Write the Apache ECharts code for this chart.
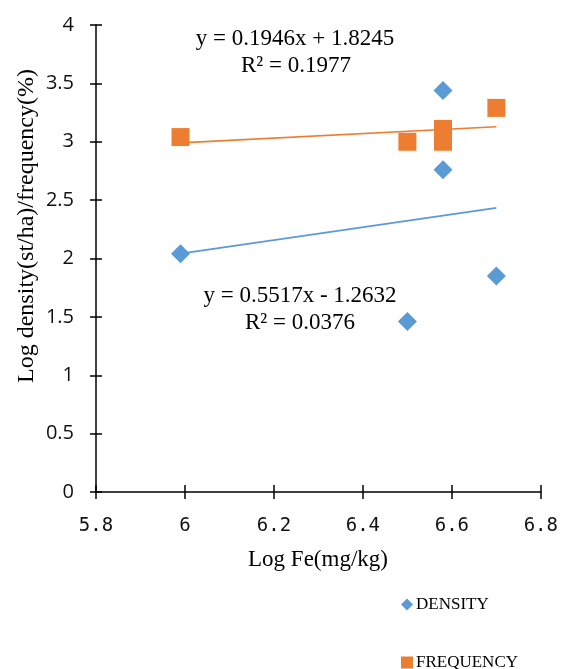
<!DOCTYPE html>
<html>
<head>
<meta charset="utf-8">
<script src="https://cdn.jsdelivr.net/npm/echarts@6/dist/echarts.min.js"></script>
<style>
html,body{margin:0;padding:0;background:#fff;}
#chart{width:561px;height:669px;}
</style>
</head>
<body>
<div id="chart"></div>
<script>
// ---- data ----
var densityX = [5.99, 6.58, 6.58, 6.70, 6.50];
var densityY = [2.04, 3.44, 2.76, 1.85, 1.46];
var frequencyX = [5.99, 6.50, 6.58, 6.58, 6.70];
var frequencyY = [3.04, 3.00, 3.11, 3.00, 3.29];
// trendline equations as printed on the chart
var densityTrend = [0.5517, -1.2632];
var frequencyTrend = [0.1946, 1.8245];
var densityEq = ['y = 0.5517x - 1.2632', 'R² = 0.0376'];
var frequencyEq = ['y = 0.1946x + 1.8245', 'R² = 0.1977'];
var xTickLabels = ['5.8', '6', '6.2', '6.4', '6.6', '6.8'];
var yTickLabels = ['0', '0.5', '1', '1.5', '2', '2.5', '3', '3.5', '4'];
var seriesNames = ['DENSITY', 'FREQUENCY'];
var xTitle = 'Log Fe(mg/kg)';
var yTitle = 'Log density(st/ha)/frequency(%)';

function pairs(xs, ys) { return xs.map(function (x, i) { return [x, ys[i]]; }); }
function trend(xs, coef) {
  var lo = Math.min.apply(null, xs), hi = Math.max.apply(null, xs);
  return [[lo, coef[0] * lo + coef[1]], [hi, coef[0] * hi + coef[1]]];
}

var BLUE = '#5B9BD5', ORANGE = '#ED7D31';
var serif = '"Liberation Serif", "Times New Roman", serif';

var chart = echarts.init(document.getElementById('chart'), null, {renderer: 'canvas'});

var baseX = {
  type: 'value', min: 5.8, max: 6.8, interval: 0.2, splitLine: {show: false}
};
var baseY = {
  type: 'value', min: 0, max: 4, interval: 0.5, splitLine: {show: false}
};

var option = {
  animation: false,
  backgroundColor: '#ffffff',
  grid: {left: 96, right: 20, top: 25, bottom: 177, containLabel: false},
  xAxis: [
    Object.assign({}, baseX, {
      position: 'bottom',
      axisLine: {show: true, onZero: false, lineStyle: {color: '#000', width: 1.5}},
      axisTick: {show: true, inside: false, length: 7, lineStyle: {color: '#000', width: 1.5}},
      axisLabel: {
        margin: 25, color: '#111', fontFamily: '"DejaVu Sans Mono", monospace', fontSize: 19,
        formatter: function (v, i) { return xTickLabels[i]; }
      }
    }),
    Object.assign({}, baseX, {
      position: 'bottom',
      axisLine: {show: false, onZero: false},
      axisTick: {show: true, inside: true, length: 7, lineStyle: {color: '#000', width: 1.5}},
      axisLabel: {show: false}
    })
  ],
  yAxis: [
    Object.assign({}, baseY, {
      position: 'left',
      axisLine: {show: true, onZero: false, lineStyle: {color: '#000', width: 1.5}},
      axisTick: {show: true, inside: false, length: 6, lineStyle: {color: '#000', width: 1.5}},
      axisLabel: {
        margin: 22, color: '#111', fontFamily: '"Open Sans", sans-serif', fontSize: 20,
        formatter: function (v, i) { return yTickLabels[i]; }
      }
    }),
    Object.assign({}, baseY, {
      position: 'left',
      axisLine: {show: false, onZero: false},
      axisTick: {show: true, inside: true, length: 6, lineStyle: {color: '#000', width: 1.5}},
      axisLabel: {show: false}
    })
  ],
  legend: [
    {
      data: [{name: seriesNames[0], icon: 'diamond'}],
      left: 396, top: 591, itemWidth: 12, itemHeight: 12, itemGap: 4,
      textStyle: {fontFamily: serif, fontSize: 17, color: '#000', padding: [2, 0, 0, -2]}
    },
    {
      data: [{name: seriesNames[1], icon: 'rect'}],
      left: 396, top: 649, itemWidth: 12, itemHeight: 12, itemGap: 4,
      textStyle: {fontFamily: serif, fontSize: 17, color: '#000', padding: [2, 0, 0, -2]}
    }
  ],
  series: [
    {
      name: 'densityTrend', type: 'line', data: trend(densityX, densityTrend),
      symbol: 'none', lineStyle: {color: BLUE, width: 1.7}, z: 1, silent: true
    },
    {
      name: 'frequencyTrend', type: 'line', data: trend(frequencyX, frequencyTrend),
      symbol: 'none', lineStyle: {color: ORANGE, width: 1.7}, z: 1, silent: true
    },
    {
      name: seriesNames[0], type: 'scatter', data: pairs(densityX, densityY),
      symbol: 'diamond', symbolSize: 19, itemStyle: {color: BLUE, opacity: 1}, z: 3
    },
    {
      name: seriesNames[1], type: 'scatter', data: pairs(frequencyX, frequencyY),
      symbol: 'rect', symbolSize: 18, itemStyle: {color: ORANGE, opacity: 1}, z: 3
    }
  ],
  graphic: [
    {type: 'text', x: 295, y: 39, style: {text: frequencyEq[0], font: '23px ' + serif, fill: '#000', align: 'center', verticalAlign: 'middle'}},
    {type: 'text', x: 296, y: 66, style: {text: frequencyEq[1], font: '23px ' + serif, fill: '#000', align: 'center', verticalAlign: 'middle'}},
    {type: 'text', x: 300, y: 296, style: {text: densityEq[0], font: '23px ' + serif, fill: '#000', align: 'center', verticalAlign: 'middle'}},
    {type: 'text', x: 300, y: 323, style: {text: densityEq[1], font: '23px ' + serif, fill: '#000', align: 'center', verticalAlign: 'middle'}},
    {type: 'text', x: 318, y: 560, style: {text: xTitle, font: '23px ' + serif, fill: '#000', align: 'center', verticalAlign: 'middle'}},
    {type: 'text', x: 27, y: 226, rotation: Math.PI / 2, style: {text: yTitle, font: '24px ' + serif, fill: '#000', align: 'center', verticalAlign: 'middle'}}
  ]
};
chart.setOption(option);
</script>
</body>
</html>
